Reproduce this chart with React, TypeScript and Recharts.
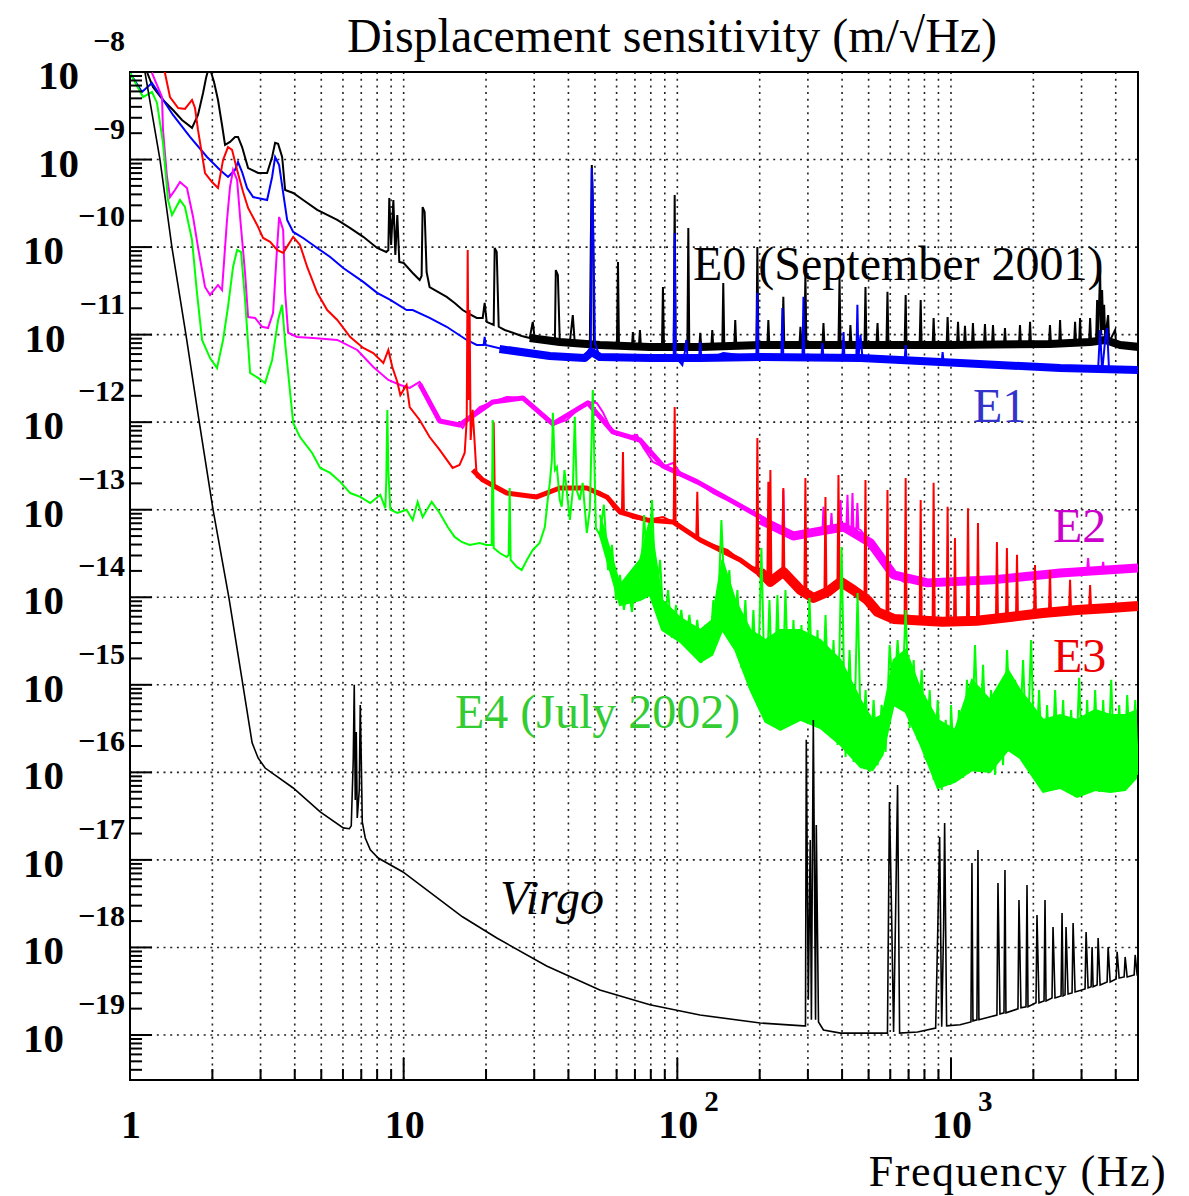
import React from 'react';
import { ComposedChart, Line, Area, XAxis, YAxis, CartesianGrid, ReferenceArea } from 'recharts';

type P = [number, number];
type R = [number, number, number];

// ---------- axis ranges & tick labels ----------
const X_MAX = 4824;
const Y_MIN = 3.06e-20;
const Y_MAX = 1e-8;
const X_DECADES = [1, 10, 100, 1000];
const MINOR_MULT = [1, 2, 3, 4, 5, 6, 7, 8, 9];
const X_LABELS: { base: string; exp: string }[] = [
  { base: '1', exp: '' },
  { base: '10', exp: '' },
  { base: '10', exp: '2' },
  { base: '10', exp: '3' },
];
const Y_EXPONENTS = [-8, -9, -10, -11, -12, -13, -14, -15, -16, -17, -18, -19];
const Y_MINOR_EXPONENTS = [-20, -19, -18, -17, -16, -15, -14, -13, -12, -11, -10, -9];

// ---------- series (frequency Hz, displacement m/sqrt(Hz)) ----------
const VIRGO: P[] = [
  [1.088, 1.56e-8], [1.134, 1e-8], [1.287, 1.0e-9], [1.424, 9.8e-11], [1.601, 1.0e-11], [1.787, 1.05e-12],
  [2.011, 1.0e-13], [2.30, 9.8e-15], [2.568, 1.14e-15], [2.794, 2.17e-16], [2.938, 1.46e-16], [3.117, 1.12e-16],
  [3.948, 6.63e-17], [4.955, 3.53e-17], [6.015, 2.32e-17], [6.33, 2.27e-17], [6.434, 2.45e-17], [6.543, 1.38e-16],
  [6.599, 1.0e-15], [6.655, 4.84e-17], [6.711, 2.89e-16], [6.768, 3.02e-17], [6.883, 6.29e-17], [6.941, 5.89e-16],
  [7.0, 1.38e-16], [7.059, 2.71e-17], [7.24, 1.78e-17], [7.552, 1.30e-17], [8.07, 1.05e-17], [9.94, 7.28e-18],
  [16.4, 2.24e-18], [21.9, 1.28e-18], [33.3, 6.15e-19], [52.1, 3.27e-19], [79.4, 2.21e-19], [121, 1.69e-19],
  [201, 1.37e-19], [289, 1.27e-19], [294, 1.27e-19], [296, 2.35e-16], [301, 2.52e-19], [306, 1.69e-17],
  [309, 1.49e-19], [314, 3.97e-16], [320, 1.49e-19], [322, 2.5e-17], [328, 1.41e-19], [342, 1.14e-19],
  [395, 1.05e-19], [586, 1.05e-19], [596, 4.59e-17], [607, 2.24e-18], [617, 1.08e-19], [628, 2.83e-18],
  [638, 7.18e-17], [649, 1.05e-19], [755, 1.08e-19], [879, 1.2e-19], [894, 1.39e-18], [909, 1.83e-17],
  [925, 1.24e-19], [940, 1.71e-18], [948, 2.64e-17], [964, 1.27e-19], [1079, 1.31e-19], [1183, 1.41e-19],
  [1193, 9.23e-18], [1203, 1.45e-19], [1244, 1.49e-19], [1255, 1.3e-17], [1265, 1.49e-19], [1472, 1.69e-19],
  [1485, 5.45e-18], [1510, 1.74e-19], [1562, 1.79e-19], [1575, 7.68e-18], [1588, 1.79e-19], [1757, 1.99e-19],
  [1772, 3.49e-18], [1802, 2.04e-19], [1880, 2.1e-19], [1896, 5.18e-18], [1912, 2.1e-19], [2045, 2.33e-19],
  [2062, 2.35e-18], [2097, 2.33e-19], [2188, 2.45e-19], [2206, 3.49e-18], [2225, 2.45e-19], [2340, 2.65e-19],
  [2360, 1.71e-18], [2400, 2.65e-19], [2525, 2.79e-19], [2546, 2.47e-18], [2568, 2.79e-19], [2611, 2.87e-19],
  [2633, 1.71e-18], [2678, 2.94e-19], [2770, 3.02e-19], [2794, 1.9e-18], [2841, 3.1e-19], [3090, 3.36e-19],
  [3117, 1.5e-18], [3170, 3.45e-19], [3251, 3.55e-19], [3278, 1.01e-18], [3306, 3.55e-19], [3420, 3.73e-19],
  [3449, 1.28e-18], [3507, 3.73e-19], [3720, 4.04e-19], [3752, 1.01e-18], [3816, 4.04e-19], [4013, 4.37e-19],
  [4047, 8.9e-19], [4116, 4.48e-19], [4293, 4.6e-19], [4330, 7.79e-19], [4403, 4.6e-19], [4671, 4.85e-19],
  [4710, 8.21e-19], [4790, 4.85e-19], [4830, 4.85e-19],
];

const E0_LOW: P[] = [
  [1.088, 1.37e-8], [1.153, 1.0e-8], [1.213, 6.74e-9], [1.32, 4.79e-9], [1.436, 3.68e-9], [1.549, 2.83e-9],
  [1.685, 2.30e-9], [1.772, 3.23e-9], [1.849, 5.76e-9], [1.896, 8.54e-9], [1.929, 1.05e-8], [1.977, 1.0e-8],
  [2.028, 7.69e-9], [2.097, 4.79e-9], [2.169, 2.48e-9], [2.225, 1.47e-9], [2.32, 1.59e-9], [2.42, 1.81e-9],
  [2.482, 1.81e-9], [2.568, 1.39e-9], [2.701, 8.0e-10], [2.938, 7.02e-10], [3.17, 7.02e-10], [3.306, 1.07e-9],
  [3.391, 1.55e-9], [3.477, 1.51e-9], [3.597, 1.07e-9], [3.689, 4.49e-10], [3.948, 4.15e-10], [4.293, 3.45e-10],
  [4.832, 2.66e-10], [5.72, 2.04e-10], [6.38, 1.65e-10], [7.118, 1.31e-10], [8.0, 9.77e-11], [8.64, 8.79e-11],
  [8.79, 9.27e-11], [8.86, 3.63e-10], [9.0, 1.06e-10], [9.17, 3.45e-10], [9.323, 8.12e-11], [9.48, 2.33e-10],
  [9.64, 6.76e-11], [10, 6.58e-11], [10.79, 5.06e-11], [11.44, 4.21e-11], [11.63, 4.68e-11], [11.73, 2.87e-10],
  [11.93, 2.52e-10], [12.13, 5.19e-11], [12.44, 3.5e-11], [13.54, 3.0e-11], [14.36, 2.7e-11], [15.36, 2.3e-11],
  [16.43, 1.91e-11], [17.42, 1.72e-11], [18.49, 1.55e-11], [19.45, 1.55e-11], [19.77, 2.3e-11], [20.11, 1.40e-11],
  [21.33, 1.29e-11], [21.51, 9.77e-11], [21.88, 8.79e-11], [22.25, 1.23e-11], [23.4, 1.13e-11], [25.05, 1.05e-11],
  [27.01, 9.65e-12], [28.89, 9.16e-12], [29.63, 1.40e-11], [30.13, 8.92e-12], [33.3, 8.69e-12], [35.7, 8.46e-12],
  [35.97, 5.47e-11], [36.6, 4.80e-11], [37.2, 8.24e-12], [40.5, 8.24e-12], [41.5, 1.67e-11], [42.2, 8.03e-12],
  [47.9, 8.03e-12], [48.3, 1.21e-10], [48.7, 8.66e-10], [49.1, 3.45e-10], [49.55, 7.62e-12], [52.1, 7.62e-12],
];
const E0_HIGH: P[] = [
  [60.15, 7.62e-12], [60.7, 6.76e-11], [61.2, 7.62e-12], [68.3, 7.43e-12], [68.8, 1.07e-11], [69.4, 7.43e-12],
  [72.4, 7.43e-12], [73.0, 1.13e-11], [73.6, 7.43e-12], [87.9, 7.24e-12], [88.6, 3.5e-11], [89.4, 7.24e-12],
  [97.0, 7.24e-12], [97.8, 3.94e-10], [98.6, 7.24e-12], [108.8, 7.24e-12], [109.7, 1.65e-10], [110.6, 7.24e-12],
  [120.3, 7.24e-12], [121.3, 1.05e-11], [122.3, 7.24e-12], [133.1, 7.24e-12], [134.2, 1.13e-11], [135.3, 7.24e-12],
  [146.0, 7.24e-12], [147.2, 3.89e-11], [148.5, 7.24e-12], [161.5, 7.43e-12], [162.8, 1.47e-11], [164.2, 7.43e-12],
  [194.5, 7.43e-12], [196.1, 1.0e-10], [197.8, 7.43e-12], [213.3, 7.43e-12], [215.1, 1.47e-11], [216.9, 7.43e-12],
  [242, 7.43e-12], [244, 2.70e-11], [246, 7.43e-12], [279.4, 7.43e-12], [281.8, 1.23e-11], [284.2, 7.43e-12],
  [291.3, 7.43e-12], [293.8, 5.06e-11], [296.3, 7.43e-12], [339, 7.43e-12], [342, 1.36e-11], [345, 7.43e-12],
  [388, 7.43e-12], [391.5, 4.43e-11], [395, 7.43e-12], [426, 7.62e-12], [429, 1.29e-11], [433, 7.62e-12],
  [483, 7.62e-12], [487, 3.5e-11], [491, 7.62e-12], [534, 7.62e-12], [539, 1.36e-11], [543.5, 7.62e-12],
  [581, 7.62e-12], [586, 3.08e-11], [591, 7.62e-12], [677, 7.62e-12], [683, 2.84e-11], [688, 7.62e-12],
  [768, 7.62e-12], [775, 2.49e-11], [781, 7.62e-12], [857, 7.62e-12], [864, 1.55e-11], [872, 7.62e-12],
  [964, 7.62e-12], [972, 1.59e-11], [981, 7.62e-12], [1052, 7.62e-12], [1061, 1.40e-11], [1070, 7.62e-12],
  [1116, 7.62e-12], [1125, 1.26e-11], [1134, 7.62e-12], [1193, 7.62e-12], [1203, 1.36e-11], [1213, 7.62e-12],
  [1320, 7.62e-12], [1331, 1.32e-11], [1342, 7.62e-12], [1412, 7.62e-12], [1424, 1.29e-11], [1436, 7.62e-12],
  [1562, 7.62e-12], [1575, 1.19e-11], [1588, 7.62e-12], [1772, 7.62e-12], [1787, 1.29e-11], [1802, 7.62e-12],
  [1929, 7.62e-12], [1945, 1.40e-11], [1961, 7.62e-12], [2281, 7.82e-12], [2300, 1.29e-11], [2320, 7.82e-12],
  [2484, 7.82e-12], [2504, 1.47e-11], [2525, 7.82e-12], [2817, 7.82e-12], [2841, 1.40e-11], [2865, 7.82e-12],
  [2940, 8.03e-12], [2963, 1.55e-11], [2988, 8.03e-12], [3197, 8.24e-12], [3224, 1.55e-11], [3251, 8.24e-12],
  [3391, 8.69e-12], [3420, 2.49e-11], [3449, 9.16e-12], [3507, 5.47e-11], [3537, 9.9e-12], [3567, 3.23e-11],
  [3598, 1.13e-11], [3628, 2.19e-11], [3659, 9.16e-12], [3752, 1.67e-11], [3784, 8.24e-12], [3980, 1.13e-11],
  [4013, 7.62e-12], [4830, 7.24e-12],
];
const E0_BAND: P[] = [
  [28.89, 9.16e-12], [37.2, 8.24e-12], [52.1, 7.62e-12], [79.4, 7.24e-12], [121.3, 7.24e-12], [201, 7.62e-12],
  [429, 7.62e-12], [994, 7.62e-12], [2300, 7.82e-12], [3224, 8.24e-12], [3659, 8.69e-12], [4150, 7.62e-12],
  [4830, 7.24e-12],
];

const E1: P[] = [
  [1.0, 9.74e-9], [1.106, 5.91e-9], [1.203, 7.49e-9], [1.287, 5.46e-9], [1.436, 3.23e-9], [1.657, 1.81e-9],
  [1.912, 1.07e-9], [2.133, 7.6e-10], [2.281, 6.32e-10], [2.42, 7.6e-10], [2.482, 9.37e-10], [2.568, 7.2e-10],
  [2.678, 4.73e-10], [2.818, 3.73e-10], [3.17, 3.45e-10], [3.306, 6.32e-10], [3.391, 1.07e-9], [3.507, 8.66e-10],
  [3.628, 4.15e-10], [3.752, 2.04e-10], [3.948, 1.49e-10], [4.293, 1.27e-10], [4.832, 9.77e-11], [5.39, 7.71e-11],
  [6.015, 5.77e-11], [7.118, 4.0e-11], [8.0, 3.0e-11], [8.939, 2.49e-11], [10.25, 1.91e-11], [10.79, 1.91e-11],
  [12.44, 1.55e-11], [14.36, 1.23e-11], [17.0, 8.69e-12], [18.49, 7.62e-12], [19.61, 7.62e-12], [19.77, 9.4e-12],
  [19.94, 7.62e-12], [23.8, 6.68e-12], [28.89, 6.17e-12], [33.3, 5.55e-12], [42.9, 5.13e-12], [46.7, 6.17e-12],
  [48.3, 7.24e-12], [48.7, 8.0e-10], [49.1, 3.45e-10], [50.0, 8.03e-12], [52.1, 5.55e-12], [58.1, 5.13e-12],
  [77.45, 5.39e-12], [97.0, 5.55e-12], [97.8, 1.45e-10], [98.6, 5.55e-12], [104.3, 4.5e-12], [106.9, 6.68e-12],
  [107.8, 8.69e-12], [108.8, 5.85e-12], [120.3, 5.85e-12], [121.3, 8.24e-12], [122.3, 5.55e-12], [135.3, 5.55e-12],
  [147.2, 6.17e-12], [194.5, 5.55e-12], [196.1, 3.0e-11], [197.8, 5.4e-12], [240, 5.4e-12], [242, 2.02e-11],
  [244, 5.4e-12], [286.5, 5.4e-12], [289, 2.7e-11], [291, 5.4e-12], [336, 5.4e-12], [339, 8.03e-12],
  [342, 5.4e-12], [401, 5.4e-12], [405, 1.07e-11], [408, 5.4e-12], [451, 5.4e-12], [455, 2.19e-11],
  [459, 5.4e-12], [467, 9.9e-12], [475, 5.4e-12], [677, 5.13e-12], [683, 7.62e-12], [688, 5.13e-12],
  [925, 4.87e-12], [932, 6.33e-12], [940, 4.87e-12], [1510, 4.5e-12], [2504, 4.16e-12], [3449, 4.05e-12],
  [3507, 1.13e-11], [3567, 3.74e-12], [3659, 8.69e-12], [3720, 1.19e-11], [3784, 3.74e-12], [4830, 3.95e-12],
];
const E1_BAND: P[] = [
  [22.4, 6.86e-12], [34.2, 5.7e-12], [45.9, 5.4e-12], [48.7, 6.33e-12], [52.1, 5.55e-12], [79.4, 5.4e-12],
  [121.3, 5.4e-12], [201, 5.55e-12], [467, 5.4e-12], [1079, 4.74e-12], [2504, 4.16e-12], [4830, 3.95e-12],
];

const E2: P[] = [
  [1.163, 1.56e-8], [1.203, 9.74e-9], [1.255, 7.10e-9], [1.309, 5.18e-9], [1.32, 2.18e-9], [1.365, 6.32e-10],
  [1.40, 3.73e-10], [1.46, 4.49e-10], [1.523, 5.54e-10], [1.615, 4.73e-10], [1.70, 2.21e-10], [1.772, 1.0e-10],
  [1.88, 3.5e-11], [1.961, 2.84e-11], [2.097, 3.69e-11], [2.169, 3.23e-11], [2.262, 2.04e-10], [2.32, 4.86e-10],
  [2.38, 7.6e-10], [2.462, 5.84e-10], [2.525, 2.21e-10], [2.633, 5.06e-11], [2.701, 1.59e-11], [2.865, 1.55e-11],
  [3.038, 1.23e-11], [3.196, 1.19e-11], [3.333, 1.77e-11], [3.449, 1.0e-10], [3.507, 2.21e-10], [3.628, 1.57e-10],
  [3.689, 3.0e-11], [3.784, 1.05e-11], [4.081, 9.4e-12], [4.671, 9.16e-12], [5.72, 8.69e-12], [6.768, 6.68e-12],
  [7.745, 4.27e-12], [8.79, 3.04e-12], [9.725, 2.66e-12], [10.52, 2.46e-12], [11.44, 2.88e-12], [12.23, 1.94e-12],
  [13.31, 1.06e-12], [14.36, 9.79e-13], [16.0, 9.29e-13], [16.43, 8.59e-13], [17.42, 1.15e-12], [18.96, 1.49e-12],
  [21.15, 1.70e-12], [23.8, 1.94e-12], [27.24, 1.89e-12], [29.63, 1.49e-12], [32.2, 1.15e-12], [35.1, 9.29e-13],
  [39.5, 1.06e-12], [44.0, 1.46e-12], [47.1, 1.70e-12], [50.8, 1.66e-12], [53.4, 1.31e-12], [58.1, 7.53e-13],
  [65.4, 6.77e-13], [71.2, 7.14e-13], [74.9, 5.21e-13], [81.5, 3.51e-13], [88.6, 3.08e-13], [96.4, 3.42e-13],
  [102.5, 2.63e-13], [118.3, 2.08e-13], [135.4, 1.55e-13], [147.2, 1.36e-13], [160.2, 1.23e-13], [180.2, 9.9e-14],
  [201, 8.26e-14], [232, 6.35e-14], [242, 5.87e-14], [244, 1.68e-13], [246, 5.87e-14], [265.5, 4.76e-14],
  [306, 5.15e-14], [339, 5.46e-14], [342, 1.08e-13], [344.9, 5.73e-14], [362.8, 5.87e-14], [365.8, 9.18e-14],
  [368.9, 5.87e-14], [391.5, 6.19e-14], [395, 1.29e-13], [398, 6.19e-14], [415, 6.35e-14], [418.6, 1.48e-13],
  [422, 6.35e-14], [433, 6.19e-14], [436.6, 1.55e-13], [440, 6.19e-14], [451, 6.03e-14], [455, 1.19e-13],
  [459, 6.03e-14], [467, 5.87e-14], [508, 4.17e-14], [553, 2.81e-14], [617, 1.80e-14], [671, 1.50e-14],
  [821.6, 1.46e-14], [1079, 1.50e-14], [1424, 1.58e-14], [1896, 1.71e-14], [2504, 1.89e-14], [3143, 1.99e-14],
  [3170, 2.81e-14], [3197, 1.99e-14], [3567, 2.04e-14], [3598, 2.53e-14], [3628, 2.04e-14], [4830, 2.16e-14],
];
const E2_BAND_MID: P[] = [
  [11.44, 2.74e-12], [13.54, 1.03e-12], [16.0, 9.29e-13], [17.42, 1.12e-12], [21.15, 1.70e-12], [27.24, 1.89e-12],
  [35.1, 9.54e-13], [47.1, 1.66e-12], [58.1, 7.73e-13], [73.0, 6.26e-13], [88.6, 3.16e-13], [118.3, 2.08e-13],
  [160.2, 1.23e-13], [201, 8.26e-14], [238, 5.87e-14],
];
const E2_BAND_HIGH: P[] = [
  [201, 7.64e-14], [265.5, 5.01e-14], [306, 5.43e-14], [405, 6.35e-14], [508, 4.17e-14], [617, 1.80e-14],
  [821.6, 1.46e-14], [1424, 1.58e-14], [2504, 1.89e-14], [4830, 2.16e-14],
];

const E3: P[] = [
  [1.32, 1.37e-8], [1.342, 9.74e-9], [1.40, 5.18e-9], [1.50, 3.88e-9], [1.588, 3.78e-9], [1.685, 4.79e-9],
  [1.728, 3.88e-9], [1.772, 2.18e-9], [1.88, 7.02e-10], [1.994, 5.54e-10], [2.097, 4.73e-10], [2.188, 9.9e-10],
  [2.281, 1.39e-9], [2.36, 1.29e-9], [2.462, 7.6e-10], [2.59, 4.26e-10], [2.701, 2.8e-10], [2.914, 1.79e-10],
  [3.064, 1.27e-10], [3.251, 1.15e-10], [3.449, 9.27e-11], [3.628, 8.56e-11], [3.784, 1.06e-10], [3.948, 1.31e-10],
  [4.18, 1.06e-10], [4.44, 5.93e-11], [4.832, 3.0e-11], [5.256, 1.91e-11], [5.72, 1.47e-11], [6.38, 9.4e-12],
  [7.118, 7.04e-12], [7.745, 6.17e-12], [8.43, 4.74e-12], [8.79, 6.68e-12], [9.09, 4.27e-12], [9.48, 2.88e-12],
  [9.725, 2.04e-12], [10.25, 2.66e-12], [10.52, 1.49e-12], [11.44, 1.06e-12], [12.44, 6.77e-13], [13.54, 4.82e-13],
  [15.1, 3.0e-13], [16.0, 3.24e-13], [16.71, 4.45e-13], [17.0, 1.06e-12], [17.14, 9.27e-11], [17.28, 1.79e-12],
  [17.42, 1.91e-11], [17.57, 6.26e-13], [17.87, 1.38e-12], [18.49, 2.37e-13], [19.45, 2.19e-13], [21.15, 1.82e-13],
  [21.33, 1.0e-12], [21.51, 1.82e-13], [23.8, 1.55e-13], [27.24, 1.48e-13], [30.64, 1.40e-13], [34.2, 1.6e-13],
  [37.2, 1.77e-13], [41.5, 1.82e-13], [46.7, 1.77e-13], [52.1, 1.6e-13], [55.3, 1.40e-13], [58.1, 1.08e-13],
  [61.7, 9.18e-14], [62.75, 9.18e-14], [63.3, 4.57e-13], [63.8, 9.18e-14], [68.8, 8.05e-14], [77.45, 7.64e-14],
  [88.6, 8.26e-14], [96.4, 7.25e-14], [97.0, 7.64e-14], [97.8, 1.49e-12], [98.6, 7.25e-14], [108.8, 5.57e-14],
  [117.3, 4.89e-14], [118.3, 1.6e-13], [119.3, 4.76e-14], [121.3, 4.51e-14], [135.3, 3.96e-14], [152.3, 3.47e-14],
  [169.9, 2.67e-14], [184.9, 2.22e-14], [194.5, 2.16e-14], [196.1, 6.6e-13], [197.8, 2.05e-14], [206.2, 1.80e-14],
  [213.3, 1.58e-14], [215.1, 2.08e-13], [216.9, 1.46e-14], [218.8, 2.84e-13], [220.7, 1.46e-14], [242, 1.95e-14],
  [244, 1.77e-13], [246, 1.95e-14], [281.8, 1.21e-14], [291.3, 1.21e-14], [293.8, 2.31e-13], [296.3, 1.15e-14],
  [314.3, 9.31e-15], [344.9, 1.09e-14], [347.8, 1.40e-13], [350.7, 1.09e-14], [353.7, 1.12e-14], [384.8, 1.49e-14],
  [388, 2.49e-13], [391.5, 1.49e-14], [394.8, 1.58e-14], [440, 1.21e-14], [483, 9.56e-15], [487, 2.19e-13],
  [491, 9.31e-15], [495, 9.31e-15], [539, 6.62e-15], [581, 5.95e-15], [586, 1.68e-13], [591, 5.80e-15],
  [617, 5.51e-15], [677, 5.51e-15], [683, 2.31e-13], [688, 5.51e-15], [768, 5.38e-15], [775, 1.29e-13],
  [781, 5.38e-15], [857, 5.24e-15], [864, 2.03e-13], [872, 5.24e-15], [932, 5.1e-15], [964, 5.1e-15],
  [972, 1.08e-13], [981, 5.1e-15], [1026, 5.1e-15], [1034, 4.76e-14], [1043, 5.1e-15], [1144, 5.24e-15],
  [1154, 1.04e-13], [1164, 5.24e-15], [1244, 5.24e-15], [1255, 7.06e-14], [1265, 5.24e-15], [1460, 5.51e-15],
  [1472, 4.28e-14], [1485, 5.51e-15], [1588, 5.66e-15], [1601, 3.66e-14], [1615, 5.66e-15], [1643, 5.8e-15],
  [1728, 5.95e-15], [1743, 3.05e-14], [1757, 5.95e-15], [2011, 6.44e-15], [2028, 2.34e-14], [2045, 6.44e-15],
  [2169, 6.62e-15], [2281, 6.79e-15], [2300, 2.05e-14], [2320, 6.79e-15], [2701, 6.97e-15], [2724, 1.58e-14],
  [2747, 6.97e-15], [2889, 7.16e-15], [3197, 7.35e-15], [3224, 1.38e-14], [3251, 7.35e-15], [3816, 7.54e-15],
  [4830, 7.74e-15],
];
const E3_BAND_MID: P[] = [
  [17.87, 2.84e-13], [19.45, 2.19e-13], [23.8, 1.55e-13], [30.64, 1.40e-13], [37.2, 1.77e-13], [46.7, 1.77e-13],
  [55.3, 1.40e-13], [61.7, 9.42e-14], [77.45, 7.64e-14], [96.4, 7.25e-14], [121.3, 4.51e-14], [169.9, 2.67e-14],
  [218.8, 1.5e-14],
];
const E3_BAND_HIGH: P[] = [
  [201, 1.95e-14], [218.8, 1.5e-14], [244, 1.95e-14], [281.8, 1.21e-14], [314.3, 9.8e-15], [353.7, 1.15e-14],
  [394.8, 1.5e-14], [440, 1.21e-14], [495, 9.31e-15], [539, 6.79e-15], [617, 5.66e-15], [932, 5.24e-15],
  [1244, 5.38e-15], [1643, 5.95e-15], [2169, 6.62e-15], [2889, 7.16e-15], [3816, 7.54e-15], [4830, 7.95e-15],
];

const E4_LOW: P[] = [
  [1.0, 9.74e-9], [1.116, 5.18e-9], [1.203, 5.91e-9], [1.255, 4.43e-9], [1.32, 1.55e-9], [1.377, 3.45e-10],
  [1.424, 2.33e-10], [1.523, 3.45e-10], [1.588, 2.87e-10], [1.685, 1.21e-10], [1.757, 3.0e-11], [1.834, 8.69e-12],
  [1.961, 5.39e-12], [2.080, 4.16e-12], [2.188, 8.69e-12], [2.281, 2.07e-11], [2.38, 5.93e-11], [2.462, 9.27e-11],
  [2.546, 8.79e-11], [2.633, 2.49e-11], [2.747, 3.65e-12], [2.938, 3.2e-12], [3.117, 2.8e-12], [3.306, 5.13e-12],
  [3.477, 1.47e-11], [3.597, 2.19e-11], [3.689, 8.03e-12], [3.848, 2.16e-12], [3.948, 9.79e-13], [4.18, 6.77e-13],
  [4.63, 4.45e-13], [4.955, 3.0e-13], [5.39, 2.63e-13], [5.864, 2.08e-13], [6.38, 1.55e-13], [6.941, 1.40e-13],
  [7.552, 1.19e-13], [8.216, 1.48e-13], [8.57, 1.04e-13], [8.64, 2.19e-13], [8.716, 1.38e-12], [8.79, 2.84e-13],
  [8.939, 1.0e-13], [9.48, 9.18e-14], [10.25, 1.0e-13], [10.79, 7.64e-14], [11.25, 1.23e-13], [11.73, 8.26e-14],
  [12.66, 1.23e-13], [13.54, 9.18e-14], [14.49, 6.35e-14], [15.36, 4.89e-14], [16.3, 4.28e-14], [17.42, 3.96e-14],
  [18.96, 4.17e-14], [20.11, 3.96e-14], [20.97, 3.96e-14], [21.15, 1.06e-12], [21.33, 3.66e-14], [22.45, 3.2e-14],
  [23.8, 2.88e-14], [24.2, 3.05e-14], [24.4, 1.77e-13], [24.6, 2.67e-14], [25.9, 2.22e-14], [27.0, 2.05e-14],
  [28.2, 2.67e-14], [29.63, 3.47e-14], [31.4, 4.17e-14], [32.8, 6.35e-14], [33.6, 1.29e-13], [34.2, 2.03e-13],
  [34.8, 3.70e-13], [35.1, 1.28e-12], [35.7, 2.84e-13], [36.3, 3.08e-13], [37.2, 1.29e-13], [37.8, 1.08e-13],
  [38.7, 2.84e-13], [40.5, 7.64e-14], [41.5, 1.68e-13], [42.2, 1.15e-12], [42.9, 1.68e-13], [44.0, 1.29e-13],
  [45.1, 2.03e-13], [46.7, 5.43e-14], [47.9, 1.0e-13], [49.1, 2.33e-12], [50.4, 6.19e-14],
];
const E4_HIGH: P[] = [
  [52.1, 5.15e-14], [53.9, 1.14e-13], [55.8, 2.05e-14], [57.7, 3.96e-14], [59.7, 9.31e-15], [61.7, 1.80e-14],
  [63.8, 7.16e-15], [66.0, 1.38e-14], [68.3, 6.79e-15], [70.6, 1.80e-14], [73.1, 1.06e-14], [75.6, 8.71e-14],
  [78.2, 1.38e-14], [80.8, 1.29e-13], [83.6, 9.31e-15], [86.5, 2.67e-14], [89.4, 4.01e-15], [92.5, 1.21e-14],
  [95.7, 3.43e-15], [99.0, 8.17e-15], [100, 3.25e-15], [103.4, 7.16e-15], [107.0, 2.85e-15], [110.7, 6.28e-15],
  [114.4, 2.20e-15], [118.3, 5.51e-15], [122.4, 1.78e-15], [126.6, 4.82e-15], [131.0, 2.20e-15], [135.4, 9.31e-15],
  [140.1, 4.23e-15], [144.9, 7.64e-14], [149.8, 6.28e-15], [155.0, 2.05e-14], [160.3, 2.85e-15], [165.8, 1.21e-14],
  [171.5, 1.56e-15], [177.3, 9.31e-15], [183.4, 9.2e-16], [189.7, 7.16e-15], [196.2, 5.89e-16], [202.9, 3.66e-14],
  [209.9, 3.77e-16], [217.1, 9.31e-15], [224.5, 3.48e-16], [232.2, 1.06e-14], [240.2, 3.05e-16], [248.4, 1.21e-14],
  [256.9, 3.77e-16], [265.7, 5.51e-15], [274.8, 4.18e-16], [284.2, 4.82e-15], [294.0, 3.97e-16], [304.1, 9.8e-15],
  [314.5, 3.77e-16], [325.3, 4.23e-15], [336.4, 3.21e-16], [348.0, 6.28e-15], [359.9, 2.67e-16], [372.2, 3.25e-15],
  [385.0, 2.05e-16], [398.2, 3.75e-14], [411.8, 1.50e-16], [426.0, 2.50e-15], [440.6, 1.31e-16], [455.7, 1.12e-14],
  [471.3, 1.15e-16], [487.5, 8.73e-16], [504.2, 1.01e-16], [521.5, 6.71e-16], [539.4, 1.21e-16], [557.9, 5.89e-16],
  [577.0, 1.71e-16], [596.8, 2.85e-15], [617.2, 6.71e-16], [638.4, 3.25e-15], [660.3, 5.16e-16], [682.9, 7.16e-15],
  [706.4, 3.21e-16], [730.6, 1.92e-15], [755.6, 2.35e-16], [781.6, 1.48e-15], [808.4, 1.39e-16], [836.1, 8.73e-16],
  [864.7, 8.19e-17], [894.4, 6.71e-16], [925.1, 6.29e-17], [956.8, 3.97e-16], [989.6, 7.18e-17], [1000, 5.89e-16],
  [1034, 7.77e-17], [1070, 5.16e-16], [1107, 8.63e-17], [1144, 1.14e-15], [1183, 1.06e-16], [1224, 2.85e-15],
  [1266, 1.31e-16], [1310, 1.69e-15], [1354, 1.12e-16], [1401, 8.73e-16], [1449, 9.34e-17], [1498, 6.71e-16],
  [1550, 1.21e-16], [1603, 2.50e-15], [1658, 1.90e-16], [1715, 1.14e-15], [1773, 1.58e-16], [1834, 1.92e-15],
  [1897, 1.21e-16], [1962, 3.25e-15], [2029, 8.19e-17], [2099, 8.73e-16], [2171, 5.97e-17], [2245, 5.89e-16],
  [2322, 6.29e-17], [2402, 8.73e-16], [2484, 6.81e-17], [2569, 6.71e-16], [2657, 6.29e-17], [2748, 5.16e-16],
  [2842, 5.24e-17], [2940, 1.20e-15], [3041, 5.51e-17], [3145, 6.71e-16], [3253, 6.29e-17], [3364, 8.73e-16],
  [3480, 5.97e-17], [3599, 6.71e-16], [3722, 6.29e-17], [3850, 1.14e-15], [3982, 5.97e-17], [4118, 5.89e-16],
  [4260, 6.29e-17], [4406, 7.66e-16], [4557, 7.77e-17], [4713, 6.71e-16], [4830, 9.34e-17],
];
// dense part of E4: [frequency, lower edge, upper edge]
const E4_DENSE: R[] = [
  [52.1, 5.15e-14, 8.71e-14], [61.7, 8.17e-15, 1.38e-14], [73.1, 9.31e-15, 2.67e-14], [79.4, 1.06e-14, 7.64e-14],
  [87.9, 4.23e-15, 9.31e-15], [102.5, 3.09e-15, 5.80e-15], [121.3, 1.82e-15, 4.23e-15], [134.2, 2.20e-15, 5.51e-15],
  [146.0, 4.23e-15, 2.67e-14], [162.8, 2.50e-15, 9.31e-15], [184.9, 8.73e-16, 4.23e-15], [209.9, 3.77e-16, 3.25e-15],
  [238, 3.05e-16, 4.23e-15], [281.8, 3.97e-16, 4.23e-15], [333.3, 3.21e-16, 3.25e-15], [395, 2.05e-16, 1.92e-15],
  [467, 1.15e-16, 6.71e-16], [516.8, 1.06e-16, 3.97e-16], [562.3, 1.58e-16, 4.52e-16], [617.2, 5.89e-16, 1.92e-15],
  [682.9, 4.9e-16, 2.50e-15], [775, 2.05e-16, 8.73e-16], [894.4, 6.63e-17, 3.97e-16], [1034, 7.77e-17, 3.05e-16],
  [1193, 1.06e-16, 1.14e-15], [1389, 1.01e-16, 6.71e-16], [1615, 1.80e-16, 1.48e-15], [1787, 1.46e-16, 8.73e-16],
  [2171, 5.97e-17, 3.97e-16], [2504, 6.63e-17, 4.52e-16], [2889, 5.24e-17, 3.97e-16], [3364, 6.29e-17, 5.16e-16],
  [3816, 5.97e-17, 4.52e-16], [4330, 6.29e-17, 4.52e-16], [4830, 9.1e-17, 5.16e-16],
];

// ---------- helpers ----------
const SERIF = '"Liberation Serif", "Times New Roman", Times, serif';
const rows = (a: P[]) => a.map(([f, v]) => ({ f, v }));
const rangeRows = (a: R[]) => a.map(([f, lo, hi]) => ({ f, band: [lo, hi] }));
const pow10 = (e: number) => Number(`1e${e}`);

const X_TICKS: number[] = [];
X_DECADES.forEach((d) => MINOR_MULT.forEach((m) => { const v = d * m; if (v <= X_MAX) X_TICKS.push(v); }));
const X_GRID = X_TICKS.filter((v) => v > 1);
const Y_DECADE_VALUES = Y_EXPONENTS.map(pow10);
const Y_TICKS: number[] = [...Y_DECADE_VALUES];
Y_MINOR_EXPONENTS.forEach((e) => MINOR_MULT.slice(1).forEach((m) => {
  const v = m * pow10(e);
  if (v >= Y_MIN && v <= Y_MAX) Y_TICKS.push(v);
}));
Y_TICKS.sort((a, b) => a - b);

const isDecade = (v: number) => {
  const lg = Math.log10(v);
  return Math.abs(lg - Math.round(lg)) < 1e-6;
};

const YTick = (props: any) => {
  const { x, y, payload } = props;
  const v = payload.value as number;
  const major = isDecade(v);
  const e = Math.round(Math.log10(v));
  return (
    <g>
      <line x1={x} x2={x + (major ? 22 : 12)} y1={y} y2={y} stroke="#000" strokeWidth={2} />
      {major && (
        <text x={x - 5} y={y + 17} textAnchor="end" fontFamily={SERIF} fontWeight="bold" fill="#000">
          <tspan fontSize={41}>10</tspan>
          <tspan fontSize={30} dx={14} dy={-38}>{'\u2212' + Math.abs(e)}</tspan>
        </text>
      )}
    </g>
  );
};

const XTick = (props: any) => {
  const { x, y, payload } = props;
  const v = payload.value as number;
  const major = isDecade(v);
  const lab = major ? X_LABELS[Math.round(Math.log10(v))] : null;
  return (
    <g>
      <line x1={x} x2={x} y1={y} y2={y - (major ? 22 : 11)} stroke="#000" strokeWidth={2} />
      {lab && (
        <text x={x + 1} y={y + 58} textAnchor="middle" fontFamily={SERIF} fontWeight="bold" fontSize={40} fill="#000">
          {lab.base}
        </text>
      )}
      {lab && lab.exp && (
        <text x={x + 27} y={y + 31} textAnchor="start" fontFamily={SERIF} fontWeight="bold" fontSize={29} fill="#000">
          {lab.exp}
        </text>
      )}
    </g>
  );
};

const lineProps = { dataKey: 'v', type: 'linear' as const, dot: false, activeDot: false, isAnimationActive: false };

export default function App() {
  return (
    <div style={{ position: 'absolute', left: 0, top: 0, width: 1189, height: 1196, background: '#fff' }}>
      <ComposedChart width={1189} height={1196} margin={{ top: 72, right: 51, bottom: 0, left: 0 }}>
        <CartesianGrid
          horizontalValues={Y_DECADE_VALUES}
          verticalValues={X_GRID}
          stroke="#222"
          strokeWidth={1.6}
          strokeDasharray="2 4.7"
        />
        <XAxis
          type="number"
          dataKey="f"
          scale="log"
          domain={[1, X_MAX]}
          allowDataOverflow
          ticks={X_TICKS}
          interval={0}
          tick={<XTick />}
          tickLine={false}
          axisLine={false}
          tickSize={0}
          tickMargin={0}
          height={116}
        />
        <YAxis
          type="number"
          scale="log"
          domain={[Y_MIN, Y_MAX]}
          allowDataOverflow
          ticks={Y_TICKS}
          interval={0}
          tick={<YTick />}
          tickLine={false}
          axisLine={false}
          tickSize={0}
          tickMargin={0}
          width={130}
        />
        <Line {...lineProps} data={rows(E0_BAND)} stroke="#000" strokeWidth={8} strokeLinejoin="round" />
        <Line {...lineProps} data={rows([...E0_LOW, ...E0_HIGH])} stroke="#000" strokeWidth={2} />
        <Line {...lineProps} data={rows(E1_BAND)} stroke="#0000ff" strokeWidth={8} strokeLinejoin="round" />
        <Line {...lineProps} data={rows(E1)} stroke="#0000ff" strokeWidth={2} />
        <Line {...lineProps} data={rows(E2_BAND_MID)} stroke="#ff00ff" strokeWidth={5} strokeLinejoin="round" />
        <Line {...lineProps} data={rows(E2_BAND_HIGH)} stroke="#ff00ff" strokeWidth={9} strokeLinejoin="round" />
        <Line {...lineProps} data={rows(E2)} stroke="#ff00ff" strokeWidth={2} />
        <Line {...lineProps} data={rows(E3_BAND_MID)} stroke="#ff0000" strokeWidth={5} strokeLinejoin="round" />
        <Line {...lineProps} data={rows(E3_BAND_HIGH)} stroke="#ff0000" strokeWidth={10} strokeLinejoin="round" />
        <Line {...lineProps} data={rows(E3)} stroke="#ff0000" strokeWidth={2} />
        <Area
          data={rangeRows(E4_DENSE)}
          dataKey="band"
          type="linear"
          fill="#00ff00"
          fillOpacity={1}
          stroke="#00ff00"
          strokeWidth={2}
          dot={false}
          activeDot={false}
          isAnimationActive={false}
        />
        <Line {...lineProps} data={rows([...E4_LOW, ...E4_HIGH])} stroke="#00ff00" strokeWidth={2} />
        <Line {...lineProps} data={rows(VIRGO)} stroke="#000" strokeWidth={1.6} />
        <ReferenceArea
          x1={1}
          x2={X_MAX}
          y1={Y_MIN}
          y2={Y_MAX}
          fill="none"
          fillOpacity={0}
          stroke="#000"
          strokeWidth={2}
          ifOverflow="visible"
        />
      </ComposedChart>
      <svg
        width={1189}
        height={1196}
        style={{ position: 'absolute', left: 0, top: 0, pointerEvents: 'none' }}
      >
        <g fontFamily={SERIF}>
          <text x={672} y={52} textAnchor="middle" fontSize={48} fill="#000">Displacement sensitivity (m/√Hz)</text>
          <text x={1018} y={1186} textAnchor="middle" fontSize={44} letterSpacing={1.5} fill="#000">Frequency (Hz)</text>
          <text x={693} y={280} fontSize={48} fill="#000">E0 (September 2001)</text>
          <text x={973} y={422} fontSize={48} fill="#3333cc">E1</text>
          <text x={1053} y={542} fontSize={48} fill="#cc00cc">E2</text>
          <text x={1053} y={672} fontSize={48} fill="#ee0000">E3</text>
          <text x={455} y={728} fontSize={48} fill="#33cc33">E4 (July 2002)</text>
          <text x={500} y={914} fontSize={48} fontStyle="italic" fill="#000">Virgo</text>
        </g>
      </svg>
    </div>
  );
}
